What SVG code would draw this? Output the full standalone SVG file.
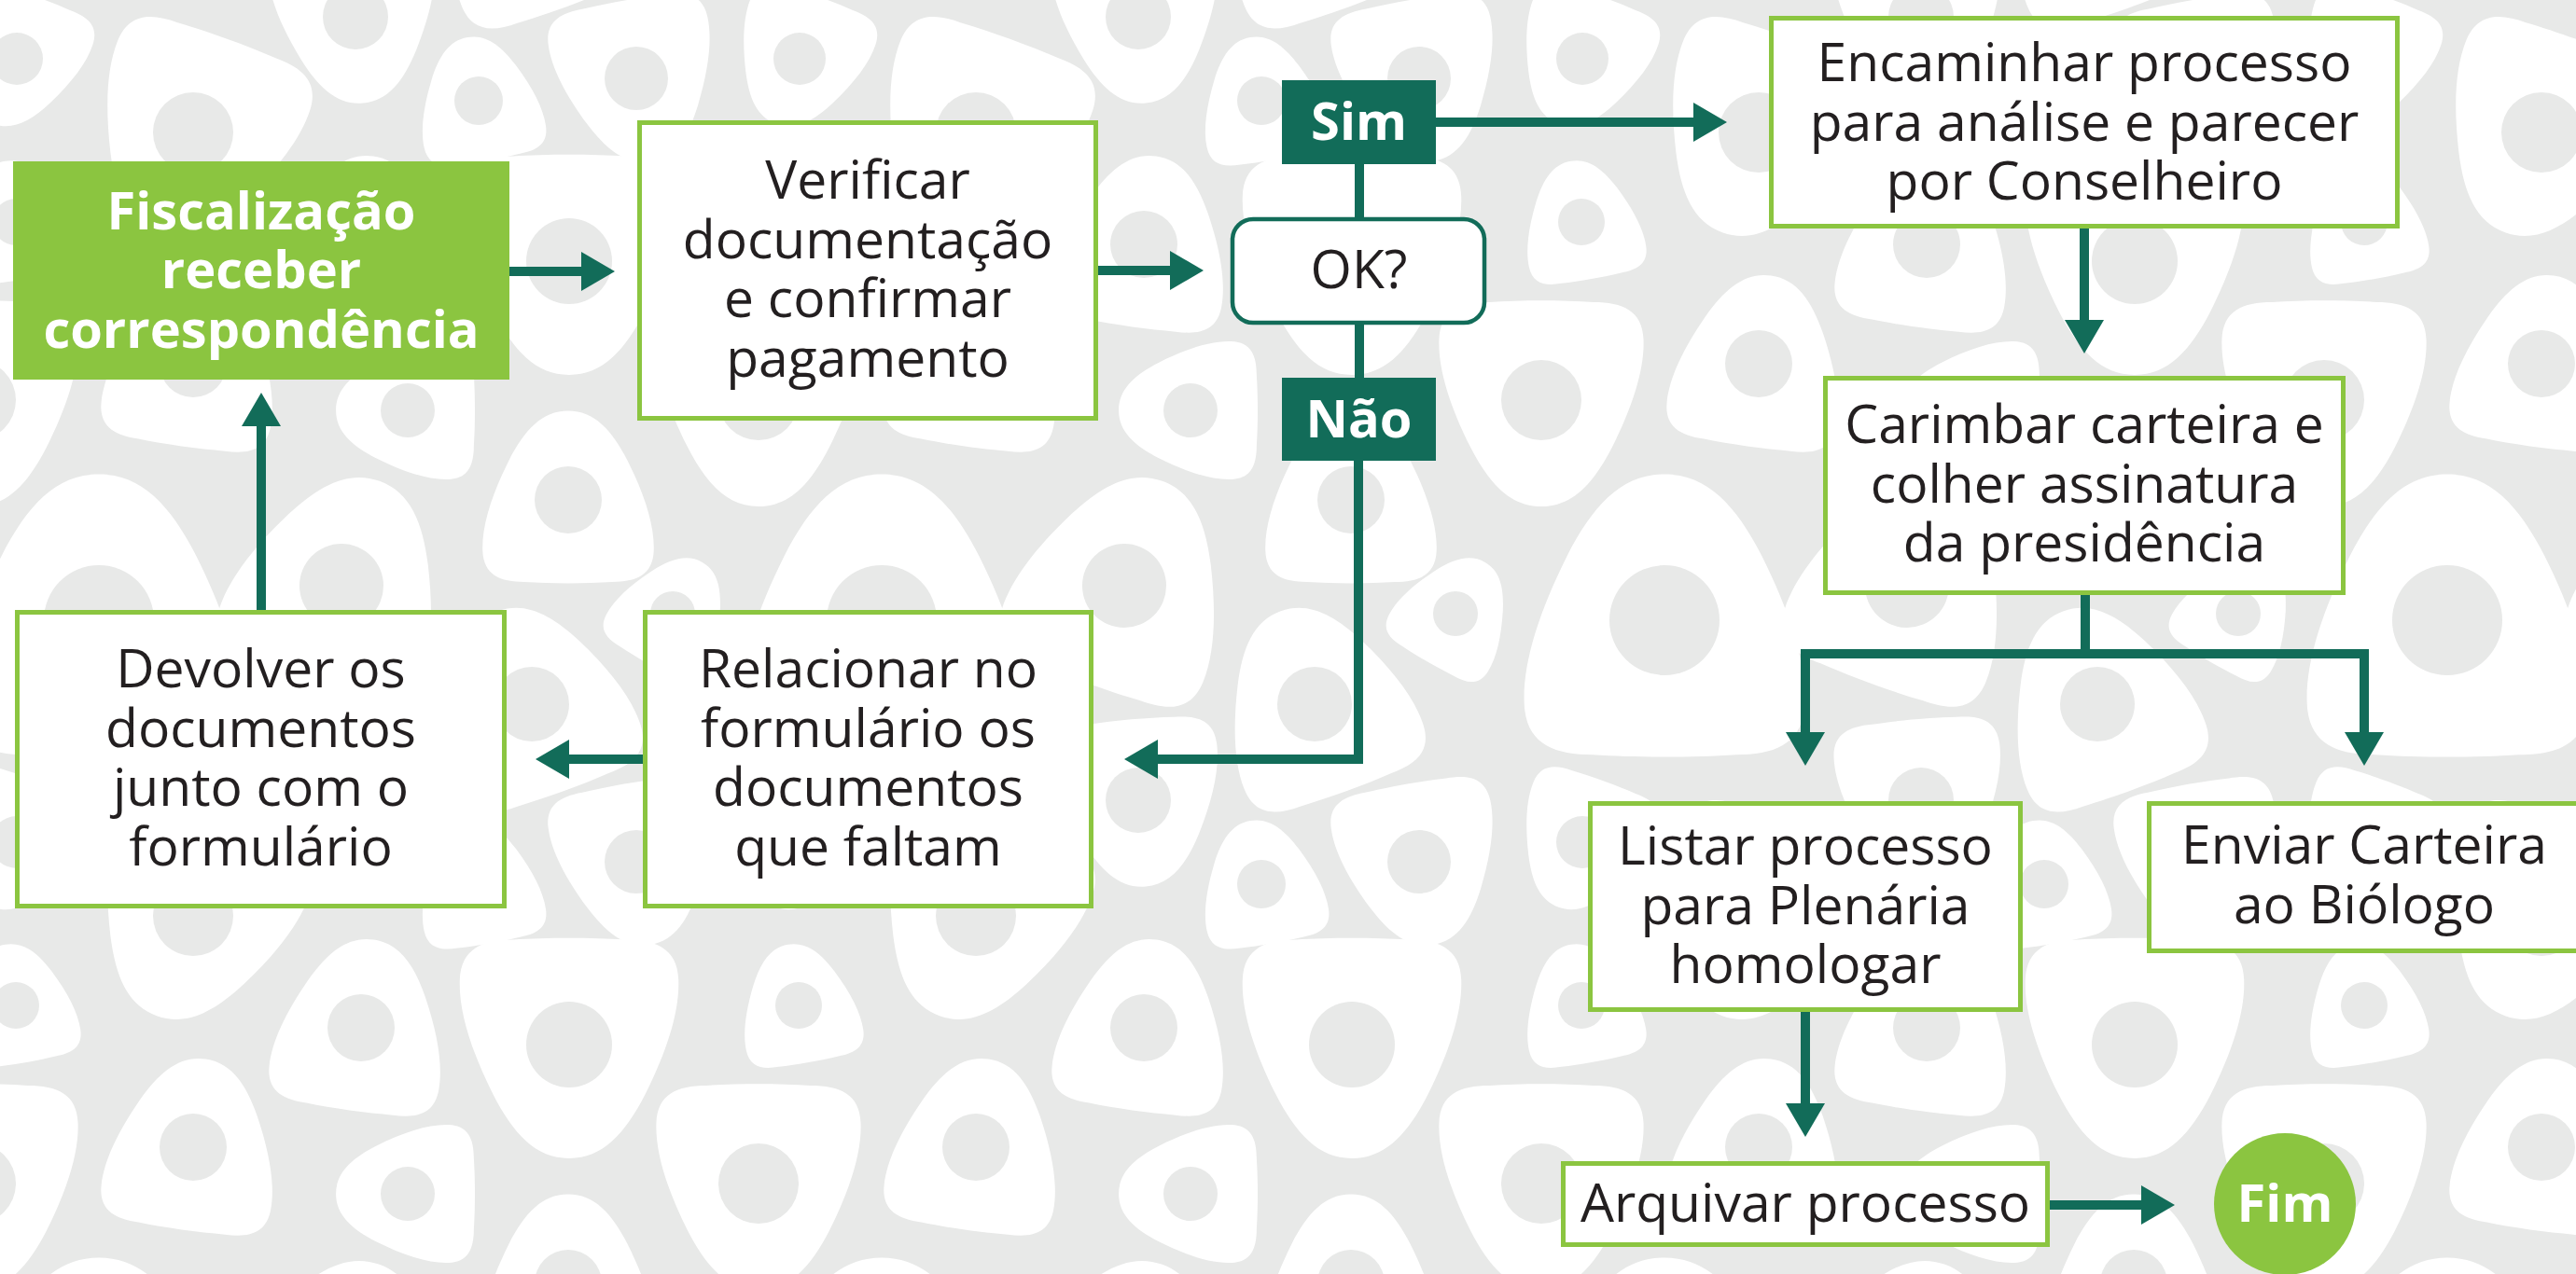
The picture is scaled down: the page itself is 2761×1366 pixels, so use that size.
<svg xmlns="http://www.w3.org/2000/svg" width="2761" height="1366" viewBox="0 0 2761 1366">
<defs>
<style>
.box{fill:#ffffff;stroke:#8bc540;stroke-width:5}
.t{font-family:"Open Sans","Noto Sans",sans-serif;font-size:57px;fill:#231f20;text-anchor:middle}
.tb{font-family:"Open Sans","Noto Sans",sans-serif;font-weight:700;font-size:56px;fill:#ffffff;text-anchor:middle}
.ln{fill:none;stroke:#126c59;stroke-width:10;stroke-linejoin:miter}
.arr{marker-end:url(#ah)}
.hole{fill:#e8e9e8}
</style>
<marker id="ah" markerUnits="userSpaceOnUse" markerWidth="40" markerHeight="46" viewBox="0 -23 40 46" refX="1" refY="0" orient="auto">
<path d="M0,-21 L36,0 L0,21 Z" fill="#126c59"/>
</marker>
<path id="blob" fill="#ffffff" d="M0,-1.02 C0.3,-1.02 0.5,-0.8 0.68,-0.45 C0.88,-0.05 0.99,0.3 0.98,0.58 C0.97,0.86 0.78,0.94 0.5,0.94 C0.2,0.96 -0.2,0.96 -0.5,0.94 C-0.78,0.94 -0.97,0.86 -0.98,0.58 C-0.99,0.3 -0.88,-0.05 -0.68,-0.45 C-0.5,-0.8 -0.3,-1.02 0,-1.02 Z"/>
<g id="tileBlobs">
<use href="#blob" transform="translate(18,63) rotate(200) scale(72.8)"/>
<use href="#blob" transform="translate(381,18) rotate(175) scale(91)"/>
<use href="#blob" transform="translate(207,142) rotate(200) scale(111.8)"/>
<use href="#blob" transform="translate(513,108) rotate(-10) scale(67.6)"/>
<use href="#blob" transform="translate(682,84) rotate(170) scale(88.4)"/>
<use href="#blob" transform="translate(17,238) rotate(-10) scale(65)"/>
<use href="#blob" transform="translate(387,262) rotate(8) scale(93.6)"/>
<use href="#blob" transform="translate(610,280) rotate(180) scale(119.6)"/>
<use href="#blob" transform="translate(207,390) rotate(8) scale(93.6)"/>
<use href="#blob" transform="translate(437,440) rotate(-90) scale(75.4)"/>
<use href="#blob" transform="translate(813,429) rotate(180) scale(111.8)"/>
<use href="#blob" transform="translate(609,536) rotate(0) scale(93.6)"/>
<use href="#blob" transform="translate(366,628) rotate(20) scale(117)"/>
<use href="#blob" transform="translate(721,658) rotate(30) scale(62.4)"/>
<use href="#blob" transform="translate(106,665) rotate(0) scale(153.4)"/>
<use href="#blob" transform="translate(570,755) rotate(-20) scale(104)"/>
</g>
<g id="tileHoles" class="hole">
<circle cx="18" cy="63" r="28"/>
<circle cx="381" cy="18" r="35"/>
<circle cx="207" cy="142" r="43"/>
<circle cx="513" cy="108" r="26"/>
<circle cx="682" cy="84" r="34"/>
<circle cx="17" cy="238" r="25"/>
<circle cx="387" cy="262" r="36"/>
<circle cx="610" cy="280" r="46"/>
<circle cx="207" cy="390" r="36"/>
<circle cx="437" cy="440" r="29"/>
<circle cx="813" cy="429" r="43"/>
<circle cx="609" cy="536" r="36"/>
<circle cx="366" cy="628" r="45"/>
<circle cx="721" cy="658" r="24"/>
<circle cx="106" cy="665" r="59"/>
<circle cx="570" cy="755" r="40"/>
</g>
<g id="row">
<use href="#tileBlobs" x="-839"/><use href="#tileBlobs" x="0"/><use href="#tileBlobs" x="839"/><use href="#tileBlobs" x="1678"/><use href="#tileBlobs" x="2517"/>
</g>
<g id="rowH">
<use href="#tileHoles" x="-839"/><use href="#tileHoles" x="0"/><use href="#tileHoles" x="839"/><use href="#tileHoles" x="1678"/><use href="#tileHoles" x="2517"/>
</g>
</defs>

<g id="background">
<rect x="0" y="0" width="2761" height="1366" fill="#e8e9e8"/>
<use href="#row" y="-840"/><use href="#row" y="0"/><use href="#row" y="840"/>
<use href="#rowH" y="-840"/><use href="#rowH" y="0"/><use href="#rowH" y="840"/>
</g>

<g id="connectors">
<path class="ln arr" d="M546,291 H624"/>
<path class="ln arr" d="M1177,290 H1255"/>
<path class="ln" d="M1457,176 V233"/>
<path class="ln" d="M1457,348 V405"/>
<path class="ln arr" d="M1456,494 V814 H1240"/>
<path class="ln arr" d="M689,814 H609"/>
<path class="ln arr" d="M280,654 V456"/>
<path class="ln arr" d="M1539,131 H1816"/>
<path class="ln arr" d="M2234,245 V344"/>
<path class="ln" d="M2235,638 V706"/>
<path class="ln arr" d="M2235,701 H1935 V786"/>
<path class="ln arr" d="M2235,701 H2534 V786"/>
<path class="ln arr" d="M1935,1085 V1184"/>
<path class="ln arr" d="M2197,1292 H2296"/>
</g>

<g id="n-fiscalizacao">
<rect x="14" y="173" width="532" height="234" fill="#8bc540"/>
<text class="tb" x="280" y="245.5">Fiscalização</text>
<text class="tb" x="280" y="309">receber</text>
<text class="tb" x="280" y="372.5">correspondência</text>
</g>

<g id="n-verificar">
<rect class="box" x="685.5" y="131.5" width="489" height="317"/>
<text class="t" x="930" y="213">Verificar</text>
<text class="t" x="930" y="276.5">documentação</text>
<text class="t" x="930" y="340">e confirmar</text>
<text class="t" x="930" y="403.5">pagamento</text>
</g>

<g id="n-ok">
<rect x="1321" y="235" width="270" height="111" rx="22" fill="#ffffff" stroke="#126c59" stroke-width="4.5"/>
<text class="t" x="1456.5" y="309">OK?</text>
</g>

<g id="n-sim">
<rect x="1374" y="86" width="165" height="90" fill="#126c59"/>
<text class="tb" x="1456.5" y="150">Sim</text>
</g>

<g id="n-nao">
<rect x="1374" y="405" width="165" height="89" fill="#126c59"/>
<text class="tb" x="1456.5" y="469">Não</text>
</g>

<g id="n-relacionar">
<rect class="box" x="691.5" y="656.5" width="478" height="315"/>
<text class="t" x="930.5" y="737">Relacionar no</text>
<text class="t" x="930.5" y="800.5">formulário os</text>
<text class="t" x="930.5" y="864">documentos</text>
<text class="t" x="930.5" y="927.5">que faltam</text>
</g>

<g id="n-devolver">
<rect class="box" x="18.5" y="656.5" width="522" height="315"/>
<text class="t" x="279.5" y="737">Devolver os</text>
<text class="t" x="279.5" y="800.5">documentos</text>
<text class="t" x="279.5" y="864">junto com o</text>
<text class="t" x="279.5" y="927.5">formulário</text>
</g>

<g id="n-encaminhar">
<rect class="box" x="1898.5" y="19.5" width="671" height="223"/>
<text class="t" x="2234" y="87">Encaminhar processo</text>
<text class="t" x="2234" y="150.5">para análise e parecer</text>
<text class="t" x="2234" y="214">por Conselheiro</text>
</g>

<g id="n-carimbar">
<rect class="box" x="1956.5" y="405.5" width="555" height="230"/>
<text class="t" x="2234" y="475">Carimbar carteira e</text>
<text class="t" x="2234" y="538.5">colher assinatura</text>
<text class="t" x="2234" y="602">da presidência</text>
</g>

<g id="n-listar">
<rect class="box" x="1704.5" y="861.5" width="461" height="221"/>
<text class="t" x="1935" y="927">Listar processo</text>
<text class="t" x="1935" y="990.5">para Plenária</text>
<text class="t" x="1935" y="1054">homologar</text>
</g>

<g id="n-enviar">
<rect class="box" x="2303.5" y="861.5" width="466" height="158"/>
<text class="t" x="2534" y="926">Enviar Carteira</text>
<text class="t" x="2534" y="990">ao Biólogo</text>
</g>

<g id="n-arquivar">
<rect class="box" x="1675.5" y="1247.5" width="519" height="87"/>
<text class="t" x="1935" y="1310">Arquivar processo</text>
</g>

<g id="n-fim">
<circle cx="2449" cy="1291" r="76" fill="#8bc540"/>
<text class="tb" x="2449" y="1310">Fim</text>
</g>
</svg>
